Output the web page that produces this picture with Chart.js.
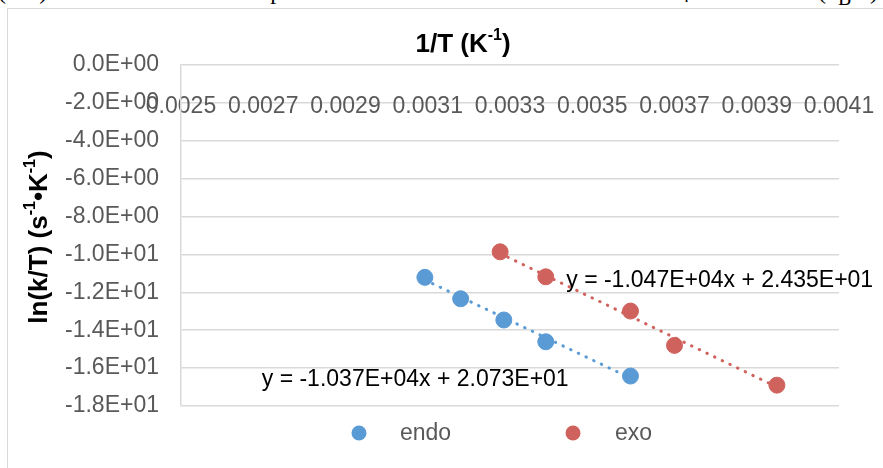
<!DOCTYPE html>
<html>
<head>
<meta charset="utf-8">
<script src="https://cdn.jsdelivr.net/npm/chart.js@4.4.1/dist/chart.umd.min.js"></script>
<style>
  body { margin: 0; background: #fff; }
  #wrap { position: relative; width: 883px; height: 468px; overflow: hidden; }
  #doc { position: absolute; left: -2px; top: -22px; white-space: nowrap;
         font-family: "Liberation Serif", serif; font-size: 24px; color: #000; }
  #frame { position: absolute; left: 7px; top: 8px; width: 1000px; height: 600px;
           border: 1px solid #d9d9d9; background: #fff; }
  #myChart { position: absolute; left: 0; top: 0; }
</style>
</head>
<body>
<div id="wrap">
  <div id="doc">(k/T) versus 1/T. Activation parameters were calculated from m = −ΔH‡/R and b = ln(k<sub>B</sub>/h) + ΔS‡/R</div>
  <div id="frame"></div>
  <canvas id="myChart" width="883" height="468"></canvas>
</div>
<script>
// values
const endoX = [0.003093, 0.003180, 0.003285, 0.003387, 0.003593];
const endoY = [-11.21, -12.34, -13.46, -14.61, -16.42];
const exoX = [0.003276, 0.003387, 0.003593, 0.003700, 0.003949];
const exoY = [-9.86, -11.18, -12.99, -14.80, -16.90];

// trendline equations as printed on the chart
const endoFit = { slope: -1.037E+04, intercept: 2.073E+01, label: 'y = -1.037E+04x + 2.073E+01' };
const exoFit = { slope: -1.047E+04, intercept: 2.435E+01, label: 'y = -1.047E+04x + 2.435E+01' };

const xTickValues = [0.0025, 0.0027, 0.0029, 0.0031, 0.0033, 0.0035, 0.0037, 0.0039, 0.0041];
const xTickLabels = ['0.0025', '0.0027', '0.0029', '0.0031', '0.0033', '0.0035', '0.0037', '0.0039', '0.0041'];
const yTickValues = [0, -2, -4, -6, -8, -10, -12, -14, -16, -18];
const yTickLabels = ['0.0E+00', '-2.0E+00', '-4.0E+00', '-6.0E+00', '-8.0E+00', '-1.0E+01', '-1.2E+01', '-1.4E+01', '-1.6E+01', '-1.8E+01'];

const BLUE = '#5B9BD5';
const RED = '#D0625D';
const FONT = '"Liberation Sans", Arial, sans-serif';

function toPoints(xs, ys) {
    return xs.map((x, i) => ({ x: x, y: ys[i] }));
}

function fitLine(xs, fit) {
    const lo = Math.min(...xs);
    const hi = Math.max(...xs);
    return [lo, hi].map(x => ({ x: x, y: fit.slope * x + fit.intercept }));
}

// draws text with superscript parts, centred on x
function drawRich(ctx, parts, x, y, size) {
    const base = 'bold ' + size + 'px ' + FONT;
    const small = 'bold ' + Math.round(size * 0.6) + 'px ' + FONT;
    let total = 0;
    parts.forEach(p => {
        ctx.font = p.sup ? small : base;
        total += ctx.measureText(p.t).width;
    });
    let cx = x - total / 2;
    parts.forEach(p => {
        ctx.font = p.sup ? small : base;
        ctx.fillText(p.t, cx, p.sup ? y - size * 0.36 : y);
        cx += ctx.measureText(p.t).width;
    });
}

const extras = {
    id: 'extras',
    afterDraw(chart) {
        const ctx = chart.ctx;
        const xs = chart.scales.x;
        const ys = chart.scales.y;
        ctx.save();
        ctx.fillStyle = '#000';
        ctx.textBaseline = 'middle';
        ctx.textAlign = 'left';

        // axis titles
        drawRich(ctx, [{ t: '1/T (K' }, { t: '-1', sup: true }, { t: ')' }], 463, 45, 26);
        ctx.save();
        ctx.translate(40, 237);
        ctx.rotate(-Math.PI / 2);
        drawRich(ctx, [{ t: 'ln(k/T) (s' }, { t: '-1', sup: true }, { t: '•K' }, { t: '-1', sup: true }, { t: ')' }], 0, 0, 26);
        ctx.restore();

        // trendline equations
        ctx.font = '23px ' + FONT;
        ctx.fillText(exoFit.label, xs.getPixelForValue(0.0035) - 26, ys.getPixelForValue(-11.4));
        ctx.fillText(endoFit.label, xs.getPixelForValue(0.0031) - 166, ys.getPixelForValue(-16.6));

        // legend
        const items = [{ ds: 0, cx: 359, tx: 400 }, { ds: 1, cx: 573, tx: 615 }];
        items.forEach(it => {
            const d = chart.data.datasets[it.ds];
            ctx.fillStyle = d.backgroundColor;
            ctx.beginPath();
            ctx.arc(it.cx, 433, 7.5, 0, Math.PI * 2);
            ctx.fill();
            ctx.fillStyle = '#595959';
            ctx.fillText(d.label, it.tx, 434);
        });
        ctx.restore();
    }
};

const ctx = document.getElementById('myChart').getContext('2d');
new Chart(ctx, {
    type: 'scatter',
    data: {
        datasets: [
            { label: 'endo', data: toPoints(endoX, endoY), backgroundColor: BLUE, borderColor: BLUE,
              pointRadius: 8, pointHoverRadius: 8, order: 0 },
            { label: 'exo', data: toPoints(exoX, exoY), backgroundColor: RED, borderColor: RED,
              pointRadius: 8, pointHoverRadius: 8, order: 0 },
            { label: 'endo fit', data: fitLine(endoX, endoFit), showLine: true, borderColor: BLUE,
              borderWidth: 3, borderDash: [0.5, 8], borderCapStyle: 'round', pointRadius: 0, order: 1 },
            { label: 'exo fit', data: fitLine(exoX, exoFit), showLine: true, borderColor: RED,
              borderWidth: 3, borderDash: [0.5, 8], borderCapStyle: 'round', pointRadius: 0, order: 1 }
        ]
    },
    options: {
        responsive: false,
        animation: false,
        layout: { padding: { left: 0, right: 44, top: 65, bottom: 62 } },
        plugins: { legend: { display: false }, tooltip: { enabled: false } },
        scales: {
            x: {
                type: 'linear',
                position: { y: 0 },
                min: 0.0025,
                max: 0.0041,
                afterBuildTicks: scale => { scale.ticks = xTickValues.map(v => ({ value: v })); },
                afterFit: scale => { scale.paddingLeft = 0; scale.paddingRight = 0; },
                grid: { display: false },
                border: { display: false },
                ticks: {
                    color: '#595959',
                    font: { family: FONT, size: 23 },
                    padding: 20,
                    maxRotation: 0,
                    autoSkip: false,
                    callback: value => xTickLabels[xTickValues.indexOf(value)]
                }
            },
            y: {
                type: 'linear',
                position: 'left',
                min: -18,
                max: 0,
                afterBuildTicks: scale => { scale.ticks = yTickValues.map(v => ({ value: v })); },
                afterFit: scale => { scale.width = 181; scale.paddingTop = 0; scale.paddingBottom = 0; },
                grid: { color: '#d9d9d9', lineWidth: 1.5, drawTicks: false },
                border: { display: true, color: '#d9d9d9', width: 1.5 },
                ticks: {
                    color: '#595959',
                    font: { family: FONT, size: 23 },
                    padding: 22,
                    callback: value => yTickLabels[yTickValues.indexOf(value)]
                }
            }
        }
    },
    plugins: [extras]
});
</script>
</body>
</html>
